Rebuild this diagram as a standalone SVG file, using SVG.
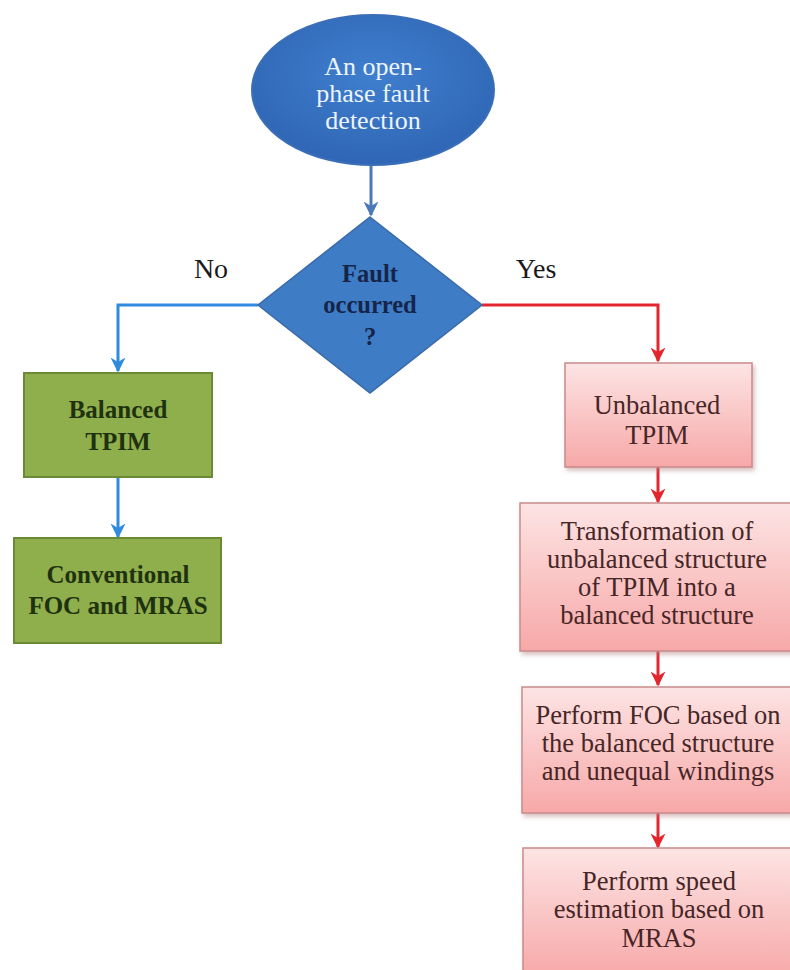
<svg xmlns="http://www.w3.org/2000/svg" width="790" height="970" viewBox="0 0 790 970" font-family="Liberation Serif, DejaVu Serif, serif">
<style>
text{font-family:'Liberation Serif','DejaVu Serif',serif;font-size:24px;text-anchor:middle}
.w{fill:#eef4fb;font-size:26px}
.d{fill:#15254a;font-weight:bold;font-size:24.5px}
.g{fill:#1f3210;font-weight:bold;font-size:25px}
.p{fill:#472626;font-size:26.5px}
.lbl{fill:#1a1a1a;font-size:28px}
.gb{fill:#8fae4c;stroke:#6a8a38;stroke-width:2}
.pb{fill:url(#pink);stroke:#c98a8a;stroke-width:1.5;filter:url(#sh)}
.cb{fill:none;stroke:#2f8ae0;stroke-width:3}
.cr{fill:none;stroke:#e3262e;stroke-width:3}
</style>
<defs>
<linearGradient id="pink" x1="0" y1="0" x2="0" y2="1">
<stop offset="0" stop-color="#fde4e4"/>
<stop offset="1" stop-color="#f7a8a8"/>
</linearGradient>
<radialGradient id="blueE" cx="0.5" cy="0.4" r="0.6">
<stop offset="0" stop-color="#3f7fce"/>
<stop offset="1" stop-color="#2f66b5"/>
</radialGradient>
<filter id="sh" x="-10%" y="-10%" width="125%" height="130%">
<feDropShadow dx="2" dy="3" stdDeviation="2" flood-color="#b08080" flood-opacity="0.5"/>
</filter>
<marker id="ab" viewBox="0 0 10 10" refX="9" refY="5" markerWidth="5" markerHeight="5" orient="auto" markerUnits="strokeWidth">
<path d="M0,0 L10,5 L0,10 L3,5 Z" fill="#2f8ae0"/>
</marker>
<marker id="ab2" viewBox="0 0 10 10" refX="9" refY="5" markerWidth="5" markerHeight="5" orient="auto" markerUnits="strokeWidth">
<path d="M0,0 L10,5 L0,10 L3,5 Z" fill="#4a78b8"/>
</marker>
<marker id="ar" viewBox="0 0 10 10" refX="9" refY="5" markerWidth="5" markerHeight="5" orient="auto" markerUnits="strokeWidth">
<path d="M0,0 L10,5 L0,10 L3,5 Z" fill="#e3262e"/>
</marker>
</defs>

<g id="connectors">
<path d="M371,165 L371,215" fill="none" stroke="#4a78b8" stroke-width="3" marker-end="url(#ab2)"/>
<path class="cb" d="M258,305 L118,305 L118,371" marker-end="url(#ab)"/>
<path class="cb" d="M118,477 L118,537" marker-end="url(#ab)"/>
<path class="cr" d="M482,305 L658,305 L658,361" marker-end="url(#ar)"/>
<path class="cr" d="M658,467 L658,502" marker-end="url(#ar)"/>
<path class="cr" d="M658,651 L658,685" marker-end="url(#ar)"/>
<path class="cr" d="M658,813 L658,847" marker-end="url(#ar)"/>
</g>

<g id="start">
<ellipse cx="373" cy="90" rx="121" ry="75" fill="url(#blueE)" stroke="#3a6fb8" stroke-width="2"/>
<text class="w" x="373" y="75">An open-</text>
<text class="w" x="373" y="102">phase fault</text>
<text class="w" x="373" y="129">detection</text>
</g>

<g id="decision">
<polygon points="370,217 482,305 370,393 258,305" fill="#3f7cc6" stroke="#3a6aa8" stroke-width="1.5"/>
<text class="d" x="370" y="282">Fault</text>
<text class="d" x="370" y="313">occurred</text>
<text class="d" x="370" y="345">?</text>
</g>

<g id="labels">
<text class="lbl" x="211" y="278">No</text>
<text class="lbl" x="536" y="278">Yes</text>
</g>

<g id="balanced">
<rect class="gb" x="24" y="373" width="188" height="104"/>
<text class="g" x="118" y="418">Balanced</text>
<text class="g" x="118" y="450">TPIM</text>
</g>

<g id="conventional">
<rect class="gb" x="14" y="538" width="207" height="105"/>
<text class="g" x="118" y="583">Conventional</text>
<text class="g" x="118" y="614">FOC and MRAS</text>
</g>

<g id="unbalanced">
<rect class="pb" x="565" y="363" width="187" height="104"/>
<text class="p" x="657" y="414">Unbalanced</text>
<text class="p" x="657" y="444">TPIM</text>
</g>

<g id="transformation">
<rect class="pb" x="520" y="503" width="272" height="148"/>
<text class="p" x="657" y="540">Transformation of</text>
<text class="p" x="657" y="568">unbalanced structure</text>
<text class="p" x="657" y="596">of TPIM  into a</text>
<text class="p" x="657" y="624">balanced structure</text>
</g>

<g id="foc">
<rect class="pb" x="522" y="687" width="270" height="126"/>
<text class="p" x="658" y="724">Perform FOC based on</text>
<text class="p" x="658" y="752">the balanced structure</text>
<text class="p" x="658" y="780">and unequal windings</text>
</g>

<g id="speed">
<rect class="pb" x="523" y="848" width="269" height="130"/>
<text class="p" x="659" y="890">Perform speed</text>
<text class="p" x="659" y="918">estimation based on</text>
<text class="p" x="659" y="947">MRAS</text>
</g>
</svg>
